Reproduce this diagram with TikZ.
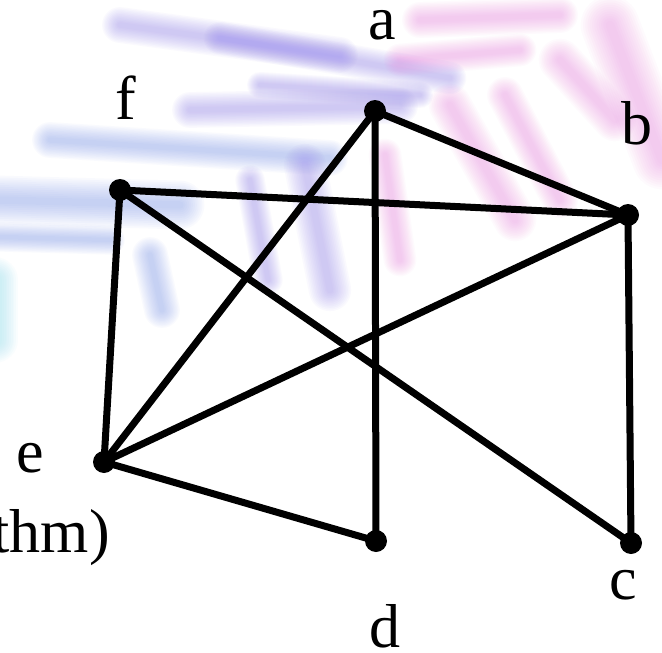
\documentclass[tikz,border=0pt]{standalone}
\usepackage{fontspec}
\setmainfont{Liberation Serif}
\definecolor{purp}{RGB}{150,135,240}
\definecolor{blu}{RGB}{130,155,240}
\definecolor{pnk}{RGB}{240,140,225}
\definecolor{cyn}{RGB}{130,220,240}
\newcommand\streak[3]{%
  \foreach \w in {2,...,13}{\draw[#1, opacity=0.045, line width=#2*\w/8, line cap=round] #3;}}
\tikzset{
  vtx/.style={circle, fill=black, inner sep=0pt, minimum size=22pt},
  edge/.style={line width=7pt},
  lbl/.style={font=\fontsize{62}{70}\selectfont, inner sep=0pt, anchor=base}
}
\begin{document}
\begin{tikzpicture}[x=1pt,y=-1pt]
\useasboundingbox (0,0) rectangle (662,653);
\fill[white] (0,0) rectangle (662,653);
\begin{scope}
\clip (0,0) rectangle (662,653);
% background streaks
\streak{purp}{22pt}{(120,25) -- (340,55)}
\streak{purp}{20pt}{(220,38) -- (450,78)}
\streak{purp}{22pt}{(190,110) -- (400,106)}
\streak{purp}{16pt}{(260,85) -- (420,95)}
\streak{blu}{22pt}{(50,140) -- (330,158)}
\streak{purp}{26pt}{(305,165) -- (330,290)}
\streak{purp}{18pt}{(250,180) -- (268,280)}
\streak{blu}{30pt}{(0,200) -- (180,205)}
\streak{blu}{18pt}{(0,237) -- (110,240)}
\streak{blu}{22pt}{(150,255) -- (162,310)}
\streak{cyn}{28pt}{(-5,280) -- (-5,340)}
\streak{pnk}{22pt}{(420,20) -- (560,15)}
\streak{pnk}{20pt}{(400,60) -- (520,50)}
\streak{pnk}{26pt}{(450,105) -- (515,220)}
\streak{pnk}{22pt}{(505,95) -- (560,200)}
\streak{pnk}{36pt}{(610,25) -- (662,160)}
\streak{pnk}{26pt}{(560,60) -- (615,120)}
\streak{pnk}{20pt}{(385,155) -- (400,260)}
\end{scope}
% vertices
\node[vtx] (a) at (375,111) {};
\node[vtx] (b) at (628,215) {};
\node[vtx] (c) at (631,543) {};
\node[vtx] (d) at (376,541) {};
\node[vtx] (e) at (104,462) {};
\node[vtx] (f) at (120,190) {};
% edges
\draw[edge] (a.center) -- (b.center);
\draw[edge] (a.center) -- (d.center);
\draw[edge] (a.center) -- (e.center);
\draw[edge] (f.center) -- (b.center);
\draw[edge] (f.center) -- (e.center);
\draw[edge] (f.center) -- (c.center);
\draw[edge] (b.center) -- (e.center);
\draw[edge] (b.center) -- (c.center);
\draw[edge] (e.center) -- (d.center);
% labels
\node[lbl] (la) at (382,39) {a};
\node[lbl] (lb) at (637,144) {b};
\node[lbl] (lc) at (623,599) {c};
\node[lbl] (ld) at (385,647) {d};
\node[lbl] (le) at (30,472) {e};
\node[lbl] (lf) at (126,119) {f};
\node[lbl, anchor=base east] (lt) at (110,552) {thm)};
\end{tikzpicture}
\end{document}
